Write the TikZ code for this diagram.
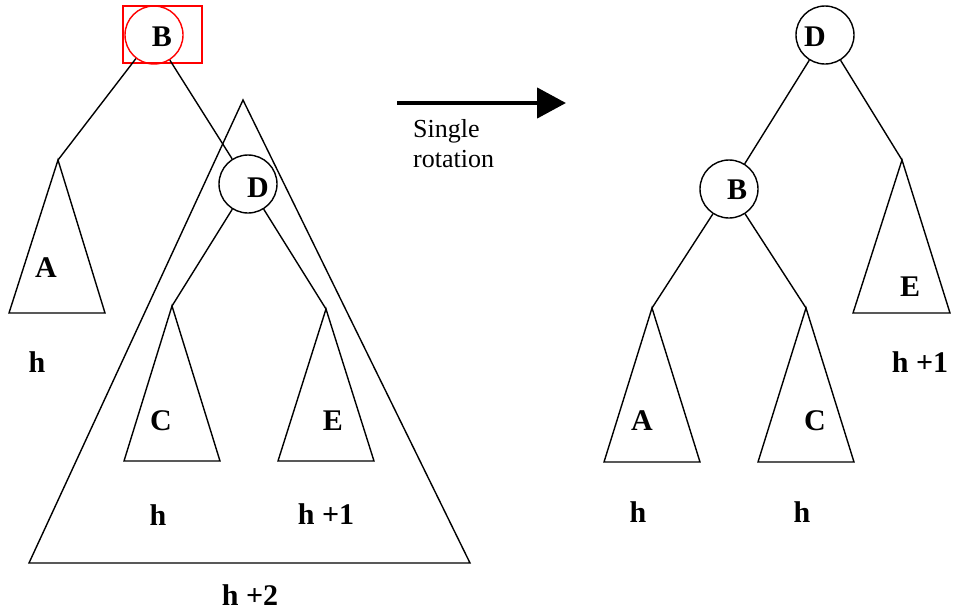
\documentclass[tikz,border=0pt]{standalone}
\usepackage{fontspec}
\setmainfont{Liberation Serif}
\usetikzlibrary{arrows.meta}
\begin{document}
\begin{tikzpicture}[x=1pt,y=-1pt,
  edge/.style={line width=1.4pt,line join=miter},
  keynode/.style={circle,draw,line width=1.4pt,minimum size=58pt,inner sep=0pt},
  lbl/.style={font=\fontsize{30}{32}\selectfont\bfseries,inner sep=0pt},
  hlbl/.style={font=\fontsize{30}{32}\selectfont\bfseries,inner sep=0pt}]
\useasboundingbox (0,0) rectangle (953,611);
\fill[white] (0,0) rectangle (953,611);

% ---------- left tree ----------
\node[keynode,draw=red] (B1) at (154,35) {};
\node[lbl] (B1l) at (162,37) {B};
\node[draw=red,line width=1.4pt,minimum width=79pt,minimum height=57pt,inner sep=0pt] (sel) at (162.5,34.5) {};

% big subtree triangle
\coordinate (Big) at (243,100);
\draw[edge] (Big) -- (470,563) -- (29,563) -- cycle;

\node[keynode] (D1) at (248,184) {};
\node[lbl] (D1l) at (258,188) {D};

% subtree A
\coordinate (A1) at (58,160);
\draw[edge] (A1) -- (105,313) -- (9,313) -- cycle;
\node[lbl] (A1l) at (46,268) {A};
\node[hlbl] (hA1) at (37,362) {h};

% subtree C
\coordinate (C1) at (172,306);
\draw[edge] (C1) -- (220,461) -- (124,461) -- cycle;
\node[lbl] (C1l) at (161,421) {C};
\node[hlbl] (hC1) at (158,515) {h};

% subtree E
\coordinate (E1) at (326,309);
\draw[edge] (E1) -- (374,461) -- (278,461) -- cycle;
\node[lbl] (E1l) at (333,421) {E};
\node[hlbl] (hE1) at (326,514) {h +1};

\node[hlbl] (hBig) at (250,595) {h +2};

\draw[edge] (B1) -- (A1);
\draw[edge] (B1) -- (D1);
\draw[edge] (D1) -- (C1);
\draw[edge] (D1) -- (E1);

% ---------- arrow ----------
\coordinate (arS) at (397,103);
\coordinate (arE) at (566,103);
\draw[line width=4.5pt,-{Triangle[length=29pt,width=30pt]}] (arS) -- (arE);
\node[font=\fontsize{26}{30}\selectfont,align=left,anchor=north west,inner sep=0pt] (cap) at (413,119) {Single\\rotation};

% ---------- right tree ----------
\node[keynode] (D2) at (825,35) {};
\node[lbl] (D2l) at (815,37) {D};
\node[keynode] (B2) at (729,189) {};
\node[lbl] (B2l) at (737,190) {B};

\coordinate (E2) at (902,160);
\draw[edge] (E2) -- (950,313) -- (853,313) -- cycle;
\node[lbl] (E2l) at (910,287) {E};
\node[hlbl] (hE2) at (920,362) {h +1};

\coordinate (A2) at (652,308);
\draw[edge] (A2) -- (700,462) -- (604,462) -- cycle;
\node[lbl] (A2l) at (642,421) {A};
\node[hlbl] (hA2) at (638,512) {h};

\coordinate (C2) at (806,308);
\draw[edge] (C2) -- (854,462) -- (758,462) -- cycle;
\node[lbl] (C2l) at (815,421) {C};
\node[hlbl] (hC2) at (802,512) {h};

\draw[edge] (D2) -- (B2);
\draw[edge] (D2) -- (E2);
\draw[edge] (B2) -- (A2);
\draw[edge] (B2) -- (C2);
\end{tikzpicture}
\end{document}
